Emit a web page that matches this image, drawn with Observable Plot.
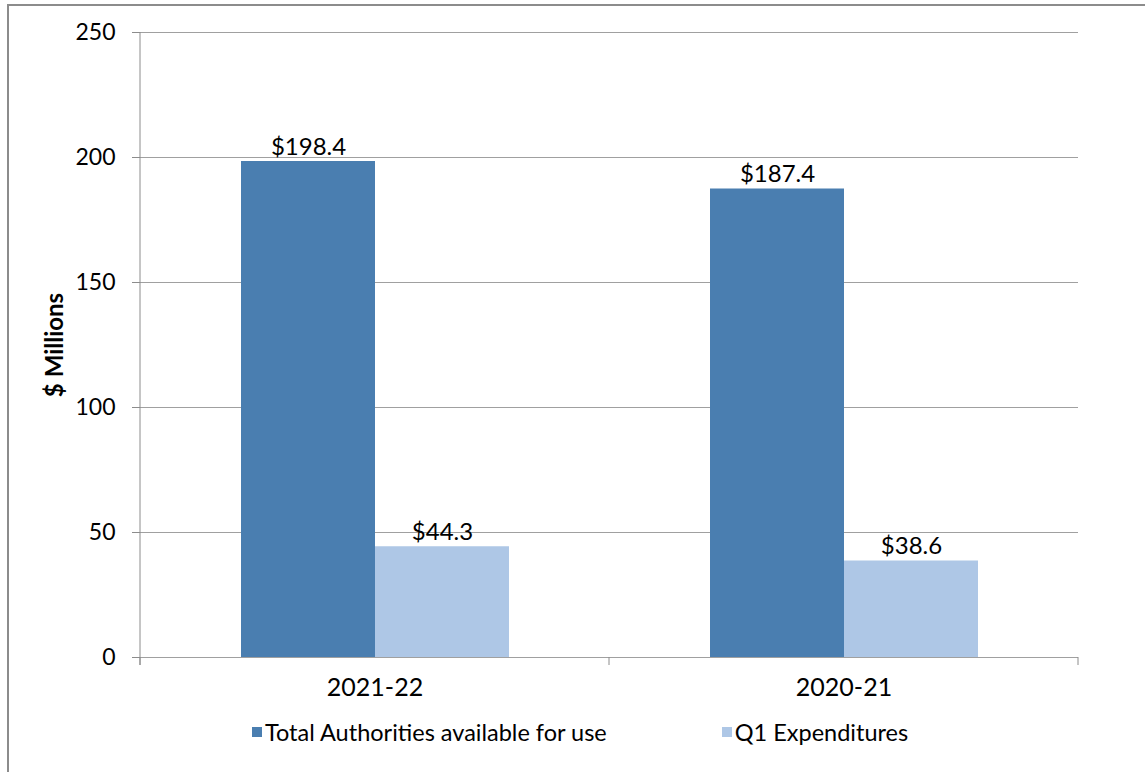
<!DOCTYPE html>
<html><head><meta charset="utf-8">
<script src="https://cdn.jsdelivr.net/npm/d3@7"></script>
<script src="https://cdn.jsdelivr.net/npm/@observablehq/plot@0.6"></script>
<style>
body{margin:0;background:#fff;overflow:hidden;font-family:Lato,sans-serif;}
#wrap{position:relative;width:1145px;height:772px;overflow:hidden;background:#fff;}
#frame{position:absolute;left:7px;top:4px;width:1200px;height:900px;border-top:2px solid #8c8c8c;border-left:2px solid #8c8c8c;pointer-events:none;}
#chart{position:absolute;left:0;top:0;}
#legend{position:absolute;top:718px;left:252px;display:flex;align-items:center;font-size:23.5px;color:#000;font-family:Lato,sans-serif;}
.item{display:flex;align-items:center;}
.sw{width:10px;height:10px;margin-right:3px;}
</style></head>
<body>
<div id="wrap"><div id="chart"></div><div id="legend"></div><div id="frame"></div></div>
<script>
const years = ["2021-22", "2020-21"];
const series = ["Total Authorities available for use", "Q1 Expenditures"];
const authorities = [198.4, 187.4];
const expenditures = [44.3, 38.6];
const yTicks = [0, 50, 100, 150, 200, 250];
const colors = ["#4a7eb0", "#aec7e6"];

const table = years.flatMap((yr, i) => [
  {year: yr, series: series[0], value: authorities[i]},
  {year: yr, series: series[1], value: expenditures[i]}
]);

const plot = Plot.plot({
  width: 1145, height: 705,
  marginLeft: 140, marginRight: 67, marginTop: 32, marginBottom: 48,
  style: {fontFamily: "Lato, sans-serif", fontSize: "23px", color: "#000", background: "transparent"},
  fx: {domain: years, padding: 0, label: null, axis: null},
  x: {domain: series, paddingInner: 0, paddingOuter: 0.75, axis: null},
  y: {domain: [0, 250], axis: null},
  color: {domain: series, range: colors},
  marks: [
    Plot.gridY(yTicks, {stroke: "#a0a0a0", strokeOpacity: 1}),
    Plot.barY(table, {fx: "year", x: "series", y: "value", fill: "series"}),
    Plot.text(table, {fx: "year", x: "series", y: "value", text: d => "$" + d.value.toFixed(1), lineAnchor: "bottom", dy: -7, fontSize: 24, fill: "#000"}),
    Plot.ruleY([0], {stroke: "#a0a0a0"}),
    Plot.axisY(yTicks, {tickSize: 8, tickPadding: 17, stroke: "#8c8c8c", fill: "#000", label: "$ Millions", labelAnchor: "center", labelOffset: 95, fontSize: 23}),
    Plot.axisFx({anchor: "bottom", tickSize: 0, tickPadding: 21, label: null, fontSize: 25, fill: "#000"})
  ]
});
document.getElementById("chart").appendChild(plot);

const svg = d3.select(plot);
svg.selectAll('[aria-label="y-axis label"] text')
  .text("$ Millions").attr("font-weight", "bold").attr("font-size", 24);

// axis decorations from the scales
const fx = plot.scale("fx");
const ys = plot.scale("y");
const y0 = ys.apply(0), yTop = ys.apply(250);
const x0 = fx.apply(years[0]);
const g = svg.append("g").attr("stroke", "#8c8c8c").attr("stroke-width", 1);
g.append("line").attr("x1", x0).attr("x2", x0).attr("y1", yTop).attr("y2", y0 + 8);
const edges = [x0, ...years.map(yr => fx.apply(yr) + fx.bandwidth)];
edges.forEach(e => g.append("line").attr("x1", e).attr("x2", e).attr("y1", y0).attr("y2", y0 + 8));

// legend
const leg = document.getElementById("legend");
series.forEach((s, i) => {
  const it = document.createElement("div");
  it.className = "item";
  if (i > 0) it.style.marginLeft = "115px";
  it.innerHTML = `<div class="sw" style="background:${colors[i]}"></div><span>${s}</span>`;
  leg.appendChild(it);
});
</script>
</body></html>
